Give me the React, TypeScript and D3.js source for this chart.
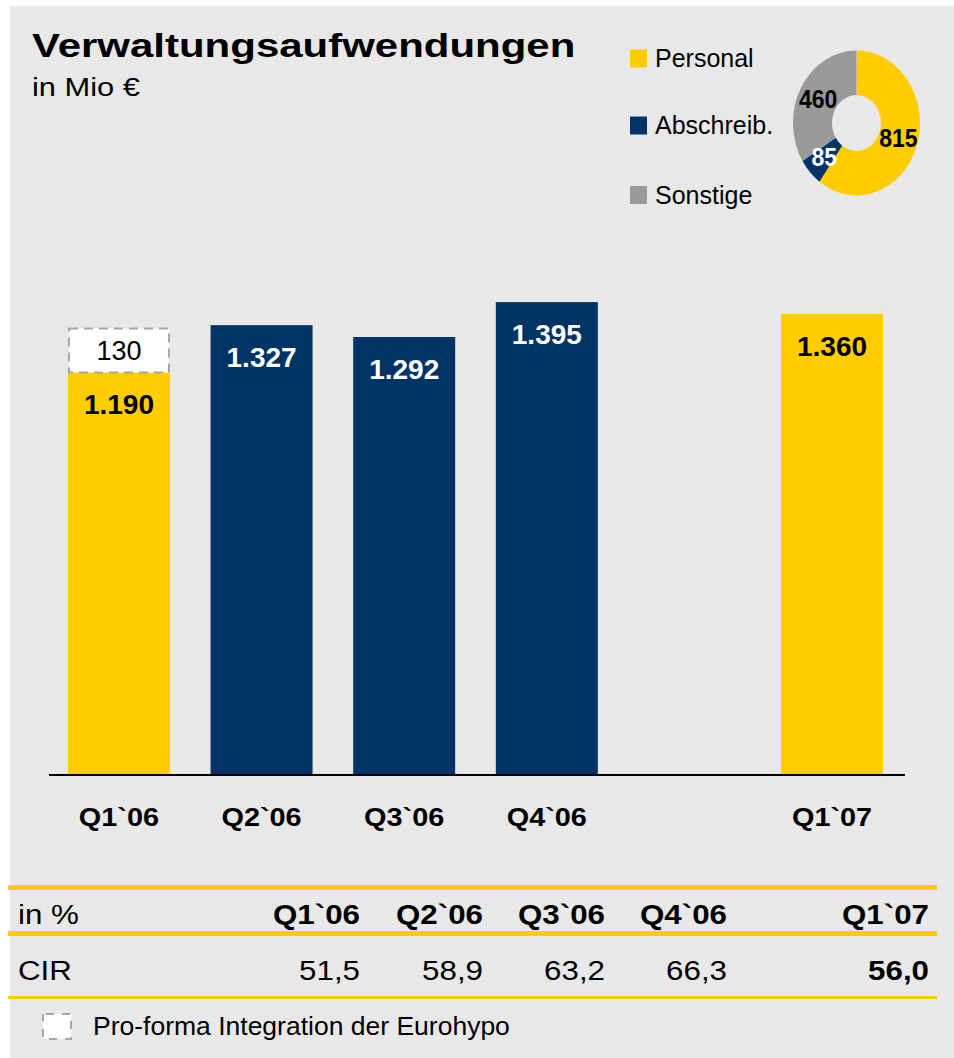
import React from "react";
import * as d3 from "d3";

// ---------- data ----------
const categories = ["Q1`06", "Q2`06", "Q3`06", "Q4`06", "", "Q1`07"];
const barValues = [1190, 1327, 1292, 1395, null, 1360];
const barKinds = ["personal", "navy", "navy", "navy", null, "personal"];
const barLabels = ["1.190", "1.327", "1.292", "1.395", "", "1.360"];
const proFormaValue = 130;
const proFormaLabel = "130";

const donutNames = ["Personal", "Abschreib.", "Sonstige"];
const donutValues = [815, 85, 460];

const tableHeaders = ["Q1`06", "Q2`06", "Q3`06", "Q4`06", "Q1`07"];
const cirValues = ["51,5", "58,9", "63,2", "66,3", "56,0"];

// ---------- styles / layout ----------
const W = 954;
const H = 1058;
const FONT = "'Liberation Sans', Arial, Helvetica, sans-serif";
const YELLOW = "#FFCC00";
const NAVY = "#003366";
const GRAY = "#999999";
const BG = "#E8E8E8";
const donutColors = [YELLOW, NAVY, GRAY];
const donutLabelColors = ["#000", "#fff", "#000"];

const baselineY = 775;
const x = d3
  .scaleBand<string>()
  .domain(categories.map((c, i) => c || `gap${i}`))
  .range([47, 904])
  .paddingInner(0.285)
  .paddingOuter(0.147);
const y = d3.scaleLinear().domain([0, 1400]).range([baselineY, baselineY - 474.6]);

const tableColRight = [360, 483, 605, 727, 929];

function T(props: {
  x: number;
  y: number;
  sx?: number;
  size: number;
  bold?: boolean;
  anchor?: string;
  fill?: string;
  baseline?: string;
  children: React.ReactNode;
}) {
  const { sx = 1, anchor = "start", fill = "#000" } = props;
  return (
    <text
      transform={`translate(${props.x},${props.y}) scale(${sx},1)`}
      fontFamily={FONT}
      fontSize={props.size}
      fontWeight={props.bold ? "bold" : "normal"}
      textAnchor={anchor}
      fill={fill}
      dominantBaseline={props.baseline}
    >
      {props.children}
    </text>
  );
}

export default function App() {
  const bw = x.bandwidth();
  const key = (i: number) => categories[i] || `gap${i}`;

  // donut
  const pie = d3.pie<number>().sort(null).value((d) => d);
  const arcs = pie(donutValues);
  const arc = d3.arc<d3.PieArcDatum<number>>().innerRadius(24.5).outerRadius(63.5);
  const dcx = 856.5;
  const dcy = 123;
  const dsy = 1.14;

  const legendRows = [58.5, 125.5, 195];

  return (
    <svg
      width={W}
      height={H}
      style={{ position: "absolute", left: 0, top: 0, background: "#fff" }}
    >
      <rect x={10} y={6} width={W - 10} height={H - 6} fill={BG} />

      {/* title */}
      <T x={32} y={57} size={34} bold sx={1.235}>
        Verwaltungsaufwendungen
      </T>
      <T x={32} y={96} size={25} sx={1.234}>
        in Mio €
      </T>

      {/* legend */}
      {donutNames.map((n, i) => (
        <g key={n}>
          <rect x={630} y={legendRows[i] - 9} width={17} height={18} fill={donutColors[i]} />
          <T x={655} y={legendRows[i] + 8.5} size={25}>
            {n}
          </T>
        </g>
      ))}

      {/* donut */}
      <g transform={`translate(${dcx},${dcy}) scale(1,${dsy})`}>
        {arcs.map((a, i) => (
          <path key={i} d={arc(a) || ""} fill={donutColors[i]} />
        ))}
      </g>
      {arcs.map((a, i) => {
        const [cx, cy] = arc.centroid(a);
        return (
          <T
            key={i}
            x={dcx + cx}
            y={dcy + cy * dsy + 9}
            size={25}
            bold
            sx={0.92}
            anchor="middle"
            fill={donutLabelColors[i]}
          >
            {donutValues[i]}
          </T>
        );
      })}

      {/* bars */}
      {barValues.map((v, i) => {
        if (v == null) return null;
        const bx = x(key(i))!;
        const top = y(v);
        const fill = barKinds[i] === "navy" ? NAVY : YELLOW;
        const txtFill = barKinds[i] === "navy" ? "#fff" : "#000";
        return (
          <g key={i}>
            <rect x={bx} y={top} width={bw} height={baselineY - top} fill={fill} />
            <T x={bx + bw / 2} y={top + 42} size={28} bold anchor="middle" fill={txtFill}>
              {barLabels[i]}
            </T>
          </g>
        );
      })}

      {/* pro-forma stacked part on Q1`06 */}
      {(() => {
        const bx = x(key(0))!;
        const y0 = y(barValues[0] as number);
        const y1 = y((barValues[0] as number) + proFormaValue);
        return (
          <g>
            <rect
              x={bx + 1}
              y={y1 + 1}
              width={bw - 2}
              height={y0 - y1}
              fill="#fff"
              stroke="#a6a6a6"
              strokeWidth={2}
              strokeDasharray="9,6"
            />
            <T x={bx + bw / 2} y={(y0 + y1) / 2 + 10} size={27} anchor="middle">
              {proFormaLabel}
            </T>
          </g>
        );
      })()}

      {/* baseline */}
      <line x1={49} x2={905} y1={baselineY} y2={baselineY} stroke="#000" strokeWidth={2} />

      {/* axis labels */}
      {categories.map((c, i) =>
        c ? (
          <T key={i} x={x(key(i))! + bw / 2} y={826} size={26} bold sx={1.11} anchor="middle">
            {c}
          </T>
        ) : null
      )}

      {/* table */}
      <rect x={8} y={885} width={929} height={5} fill={YELLOW} />
      <rect x={8} y={931} width={929} height={5} fill={YELLOW} />
      <rect x={8} y={996} width={929} height={3} fill={YELLOW} />
      <T x={18} y={924} size={27} sx={1.16}>
        in %
      </T>
      {tableHeaders.map((h, i) => (
        <T key={h} x={tableColRight[i]} y={924} size={27} bold sx={1.16} anchor="end">
          {h}
        </T>
      ))}
      <T x={18} y={980} size={27} sx={1.16}>
        CIR
      </T>
      {cirValues.map((v, i) => (
        <T
          key={i}
          x={tableColRight[i]}
          y={980}
          size={27}
          bold={i === cirValues.length - 1}
          sx={1.16}
          anchor="end"
        >
          {v}
        </T>
      ))}

      {/* bottom legend */}
      <rect
        x={43}
        y={1014}
        width={28}
        height={25}
        fill="#fff"
        stroke="#a6a6a6"
        strokeWidth={2}
        strokeDasharray="8,8"
        strokeDashoffset={-3}
      />
      <T x={93} y={1035} size={26.5}>
        Pro-forma Integration der Eurohypo
      </T>
    </svg>
  );
}
